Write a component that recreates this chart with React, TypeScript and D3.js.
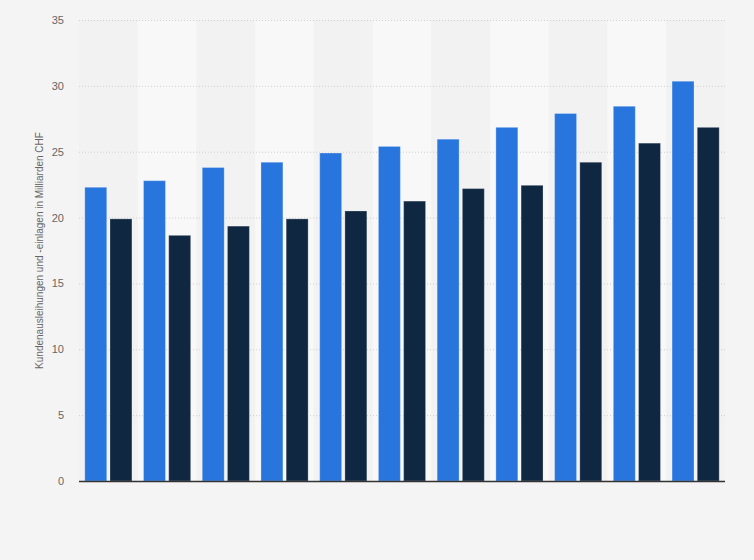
import { useEffect, useRef } from "react";
import * as d3 from "d3";

const categories = ["2011", "2012", "2013", "2014", "2015", "2016", "2017", "2018", "2019", "2020", "2021"];
const ausleihungen = [22.3, 22.8, 23.8, 24.2, 24.9, 25.4, 25.95, 26.85, 27.9, 28.45, 30.35];
const einlagen = [19.9, 18.65, 19.35, 19.9, 20.5, 21.25, 22.2, 22.45, 24.2, 25.65, 26.85];
const yTicks = [0, 5, 10, 15, 20, 25, 30, 35];
const seriesNames = ["Kundenausleihungen", "Kundeneinlagen"];
const colors = ["#2876dd", "#0f2740"];

function App() {
  const ref = useRef<SVGSVGElement>(null);

  useEffect(() => {
    document.body.style.margin = "0";
    const svg = d3.select(ref.current);
    svg.selectAll("*").remove();
    const width = 754;
    const height = 560;
    const margin = { top: 20, right: 29, bottom: 79, left: 79 };

    svg.append("rect").attr("width", width).attr("height", height).attr("fill", "#f4f4f4");

    const x = d3
      .scaleBand()
      .domain(categories)
      .range([margin.left, width - margin.right])
      .padding(0);

    const inner = d3
      .scaleBand()
      .domain(seriesNames)
      .range([0, x.bandwidth()])
      .paddingInner(0.13)
      .paddingOuter(0.23);

    const y = d3
      .scaleLinear()
      .domain([0, 35])
      .range([height - margin.bottom, margin.top]);

    // alternating column stripes
    svg
      .append("g")
      .selectAll("rect")
      .data(categories)
      .join("rect")
      .attr("x", (d) => x(d) ?? 0)
      .attr("y", margin.top)
      .attr("width", x.bandwidth())
      .attr("height", y(0) - margin.top)
      .attr("fill", (_, i) => (i % 2 === 1 ? "#f8f8f8" : "#f2f2f2"));

    // grid
    const yAxis = svg
      .append("g")
      .attr("transform", `translate(${margin.left},0)`)
      .call(
        d3
          .axisLeft(y)
          .tickValues(yTicks)
          .tickSize(-(width - margin.left - margin.right))
          .tickPadding(15)
      );
    yAxis.select(".domain").remove();
    yAxis
      .selectAll(".tick line")
      .attr("stroke", "#cfcfcf")
      .attr("stroke-dasharray", "1,2")
      .attr("display", (d) => (d === 0 ? "none" : null));
    yAxis
      .selectAll(".tick text")
      .attr("fill", "#666")
      .attr("font-size", 11)
      .attr("font-family", "'Liberation Sans', Arial, sans-serif");

    const groups = svg
      .append("g")
      .selectAll("g")
      .data(categories)
      .join("g")
      .attr("transform", (d) => `translate(${x(d)},0)`);

    groups
      .selectAll("rect")
      .data((_, i) => [ausleihungen[i], einlagen[i]].map((v, j) => ({ key: seriesNames[j], v, j })))
      .join("rect")
      .attr("x", (d) => inner(d.key) ?? 0)
      .attr("y", (d) => y(d.v))
      .attr("width", inner.bandwidth())
      .attr("height", (d) => y(0) - y(d.v))
      .attr("fill", (d) => colors[d.j])
      .attr("stroke", "rgba(255,255,255,0.25)")
      .attr("stroke-width", 1);

    svg
      .append("line")
      .attr("x1", margin.left)
      .attr("x2", width - margin.right)
      .attr("y1", y(0) + 0.5)
      .attr("y2", y(0) + 0.5)
      .attr("stroke", "#333")
      .attr("stroke-width", 1.5);

    svg
      .append("text")
      .attr("transform", `translate(43,${(margin.top + y(0)) / 2}) rotate(-90)`)
      .attr("text-anchor", "middle")
      .attr("fill", "#666")
      .attr("font-size", 10)
      .attr("font-family", "'Liberation Sans', Arial, sans-serif")
      .text("Kundenausleihungen und -einlagen in Milliarden CHF");
  }, []);

  return <svg ref={ref} width={754} height={560} style={{ display: "block" }} />;
}

export default App;
